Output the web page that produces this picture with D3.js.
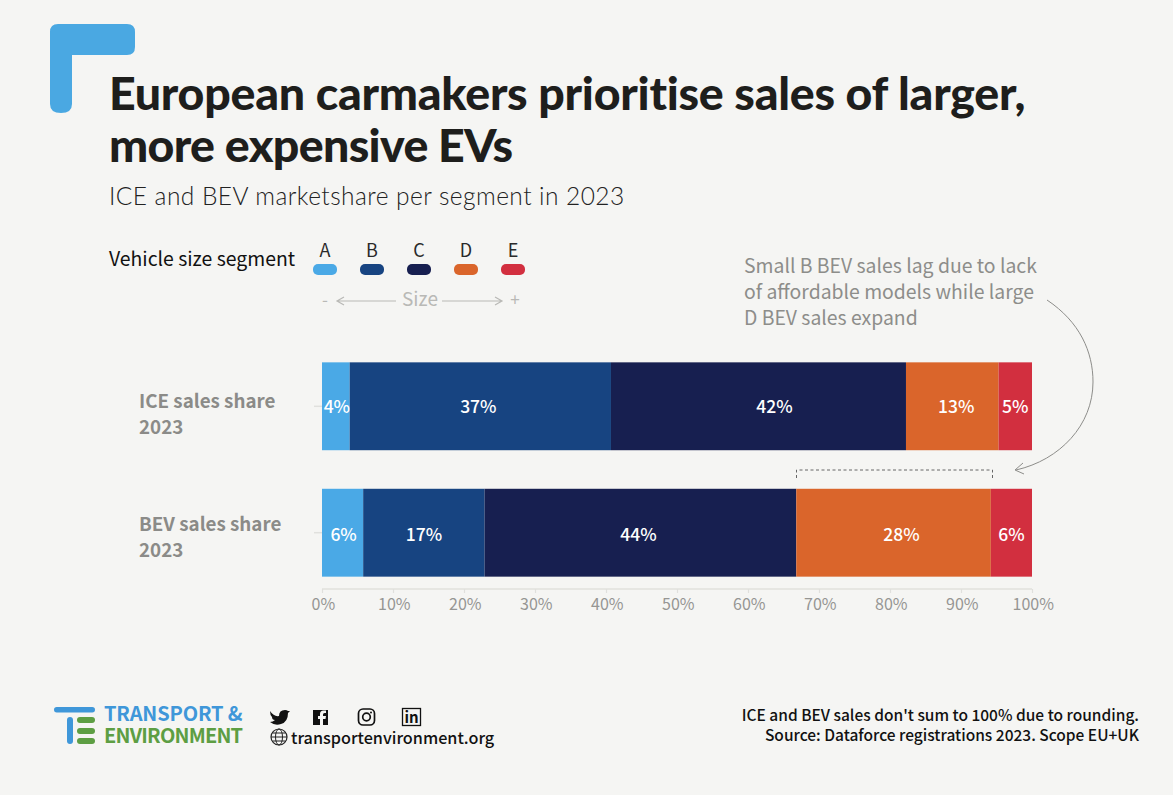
<!DOCTYPE html>
<html><head><meta charset="utf-8">
<script src="https://cdnjs.cloudflare.com/ajax/libs/d3/7.8.5/d3.min.js"></script>
<style>html,body{margin:0;padding:0;background:#f5f5f3;overflow:hidden}svg{display:block}
text{font-family:"Noto Sans CJK SC","Noto Sans",sans-serif}</style></head><body><svg id="c" width="1173" height="795"></svg>
<script>
const segments=["A","B","C","D","E"];
const rows=["ICE","BEV"];
const rowLabels=[["ICE sales share","2023"],["BEV sales share","2023"]];
const iceValues=[3.9,36.8,41.55,13.05,4.7];
const bevValues=[5.8,17.1,43.9,27.4,5.8];
const iceLabels=["4%","37%","42%","13%","5%"];
const bevLabels=["6%","17%","44%","28%","6%"];
const colors=["#4aa9e6","#174481","#171f50","#da652b","#d22f3f"];
const tickValues=[0,10,20,30,40,50,60,70,80,90,100];
const titleLines=["European carmakers prioritise sales of larger,","more expensive EVs"];
const subtitle="ICE and BEV marketshare per segment in 2023";
const noteLines=["Small B BEV sales lag due to lack","of affordable models while large","D BEV sales expand"];
const footLines=["ICE and BEV sales don't sum to 100% due to rounding.","Source: Dataforce registrations 2023. Scope EU+UK"];

// label placement (pixels), separate from the data
const labelShift=[[1,-2,16,4,0],[1,0,-2,8,0]];
const labelDy=[0,1];
const rowLabelDy=[1,-3];
const titleSpacing=[-0.25,-0.65];

const svg=d3.select("#c");
svg.append("rect").attr("width",1173).attr("height",795).attr("fill","#f5f5f3");
const T=(x,y,s,size,fill,weight,anchor,family,ls)=>{const t=svg.append("text").attr("x",x).attr("y",y).text(s).attr("font-size",size).attr("fill",fill).attr("font-weight",weight||400).attr("text-anchor",anchor||"start");if(family)t.style("font-family",family);if(ls)t.attr("letter-spacing",ls);return t;};
const ML=(x,y,lines,lh,size,fill,weight)=>{const t=svg.append("text").attr("font-size",size).attr("fill",fill).attr("font-weight",weight);
  lines.forEach((s,i)=>t.append("tspan").attr("x",x).attr("y",y+i*lh).text(s));};

// corner mark
svg.append("path").attr("fill","#4aa8e2").attr("d","M58 24H127Q135 24 135 32V47Q135 55 127 55H72V104Q72 113 61 113Q50 113 50 104V32Q50 24 58 24Z");

// titles
const TF='Lato,Inter,sans-serif';
titleLines.forEach((s,i)=>T(109,110+i*52,s,46.5,"#1e1e1c",900,"start",TF,titleSpacing[i]));
T(109,205,subtitle,24.5,"#222",300,"start",TF,0.45);

// legend
T(109,266,"Vehicle size segment",19.4,"#111",400);
const lx=d3.scalePoint().domain(segments).range([325,513]);
segments.forEach((s,i)=>{
  T(lx(s),257,s,18,"#2a2a2a",400,"middle");
  svg.append("rect").attr("x",lx(s)-12).attr("y",264).attr("width",24).attr("height",11).attr("rx",5).attr("fill",colors[i]);
});
const gray="#b9b9b6";
T(325,306,"-",17,gray,400,"middle");
T(420,306,"Size",19,gray,400,"middle");
T(515,306,"+",17,gray,400,"middle");
const arrow=(d)=>svg.append("path").attr("d",d).attr("fill","none").attr("stroke",gray).attr("stroke-width",1.2);
arrow("M396 301H338M344 297L337 301L344 305");
arrow("M442 301H501M495 297L502 301L495 305");

// chart
const x=d3.scaleLinear().domain([0,100]).range([322,1032]);
const y=d3.scaleBand().domain(rows).range([343,596]).paddingInner(0.305).paddingOuter(0.153);
const table=[iceValues,bevValues].map((vals,r)=>{let c=0;return vals.map((v,i)=>{const o={row:rows[r],r,i,x0:c,x1:c+v,label:(r?bevLabels:iceLabels)[i]};c+=v;return o;});}).flat();
svg.append("g").selectAll("rect").data(table).join("rect")
  .attr("x",d=>x(d.x0)).attr("width",d=>x(d.x1)-x(d.x0))
  .attr("y",d=>y(d.row)).attr("height",y.bandwidth()).attr("fill",d=>colors[d.i]);
svg.append("g").selectAll("text").data(table).join("text")
  .attr("x",d=>(x(d.x0)+x(d.x1))/2+labelShift[d.r][d.i]).attr("y",d=>y(d.row)+y.bandwidth()/2+7+labelDy[d.r])
  .attr("text-anchor","middle").attr("font-size",17.5).attr("font-weight",500).attr("fill","#fff").text(d=>d.label);

// y ticks and labels
rows.forEach((r,i)=>{
  const c=y(r)+y.bandwidth()/2;
  svg.append("line").attr("x1",314).attr("x2",322).attr("y1",c).attr("y2",c).attr("stroke","#e0e0dd").attr("stroke-width",1.5);
  ML(139,c+1+rowLabelDy[i],rowLabels[i],26,18.8,"#8b8b88",700);
});

// x axis
const ax=svg.append("g").attr("transform","translate(0,589)").call(d3.axisBottom(x).tickValues(tickValues).tickFormat(d=>d+"%").tickSize(4).tickPadding(6));
ax.select(".domain").attr("stroke","#e0e0dd").attr("stroke-width",1.5).attr("d","M322,0H1032");
ax.selectAll(".tick line").attr("stroke","#e0e0dd").attr("stroke-width",1.2);
ax.selectAll(".tick text").attr("font-size",16).attr("fill","#969693").attr("dx",0.8).style("font-family",'"Noto Sans CJK SC"');

// annotation
ML(744,273,noteLines,26,19.4,"#8d8d8a",400);
svg.append("path").attr("fill","none").attr("stroke","#8d8d8a").attr("stroke-width",1)
  .attr("d","M1047 300C1080 322 1093 352 1093 382C1093 425 1060 460 1016 470M1023 463L1015 470L1024 474");
svg.append("path").attr("fill","none").attr("stroke","#666").attr("stroke-width",1).attr("stroke-dasharray","3 2.5")
  .attr("d","M796.5 478V470H992.5V478");

// logo
const blue="#3f97d9",green="#5d9e43";
const bar=(x0,y0,w,h,c)=>svg.append("rect").attr("x",x0).attr("y",y0).attr("width",w).attr("height",h).attr("rx",h<w?h/2:w/2).attr("fill",c);
bar(54,707,41,5.5,blue);
bar(67,717,6,27,blue);
bar(77,717,18,6,green);
bar(77,728,18,6,green);
bar(77,738,18,6,green);
T(104,721,"TRANSPORT &",20,blue,700,"start",null,-0.15);
T(104,743,"ENVIRONMENT",20,green,700,"start",null,-0.8);

// social icons
svg.append("path").attr("fill","#111").attr("d","M270 711Q274 717 279 716Q279 710 285 710Q287 710 288 711L290 711L288 713Q288 722 281 724Q275 726 270 722Q273 722 275 720Q272 720 272 717Q270 715 270 711Z");
svg.append("path").attr("fill","#111").attr("d","M313 710H328V725H323V719H325.500L326 716H323V714.500Q323 713 324.500 713H326V710.500H323.500Q320 710.500 320 714V716H318V719H320V725H313Z");
svg.append("rect").attr("x",358.500).attr("y",709).attr("width",16).attr("height",16).attr("rx",4.500).attr("fill","none").attr("stroke","#111").attr("stroke-width",1.700);
svg.append("circle").attr("cx",366.500).attr("cy",717).attr("r",3.800).attr("fill","none").attr("stroke","#111").attr("stroke-width",1.700);
svg.append("circle").attr("cx",371).attr("cy",712.500).attr("r",1).attr("fill","#111");
svg.append("rect").attr("x",402.500).attr("y",708.500).attr("width",18).attr("height",17).attr("fill","none").attr("stroke","#111").attr("stroke-width",1.300);
T(411.500,723,"in",15,"#111",700,"middle");
svg.append("circle").attr("cx",279).attr("cy",737).attr("r",8).attr("fill","none").attr("stroke","#222").attr("stroke-width",1.200);
svg.append("ellipse").attr("cx",279).attr("cy",737).attr("rx",3.500).attr("ry",8).attr("fill","none").attr("stroke","#222").attr("stroke-width",1);
svg.append("path").attr("d","M271 737H287M272.500 733H285.500M272.500 741H285.500").attr("fill","none").attr("stroke","#222").attr("stroke-width",1);
T(291,744,"transportenvironment.org",16.2,"#111",500);

// footnote
footLines.forEach((s,i)=>T(1139,721+i*20,s,15.5,"#111",500,"end"));
</script></body></html>
